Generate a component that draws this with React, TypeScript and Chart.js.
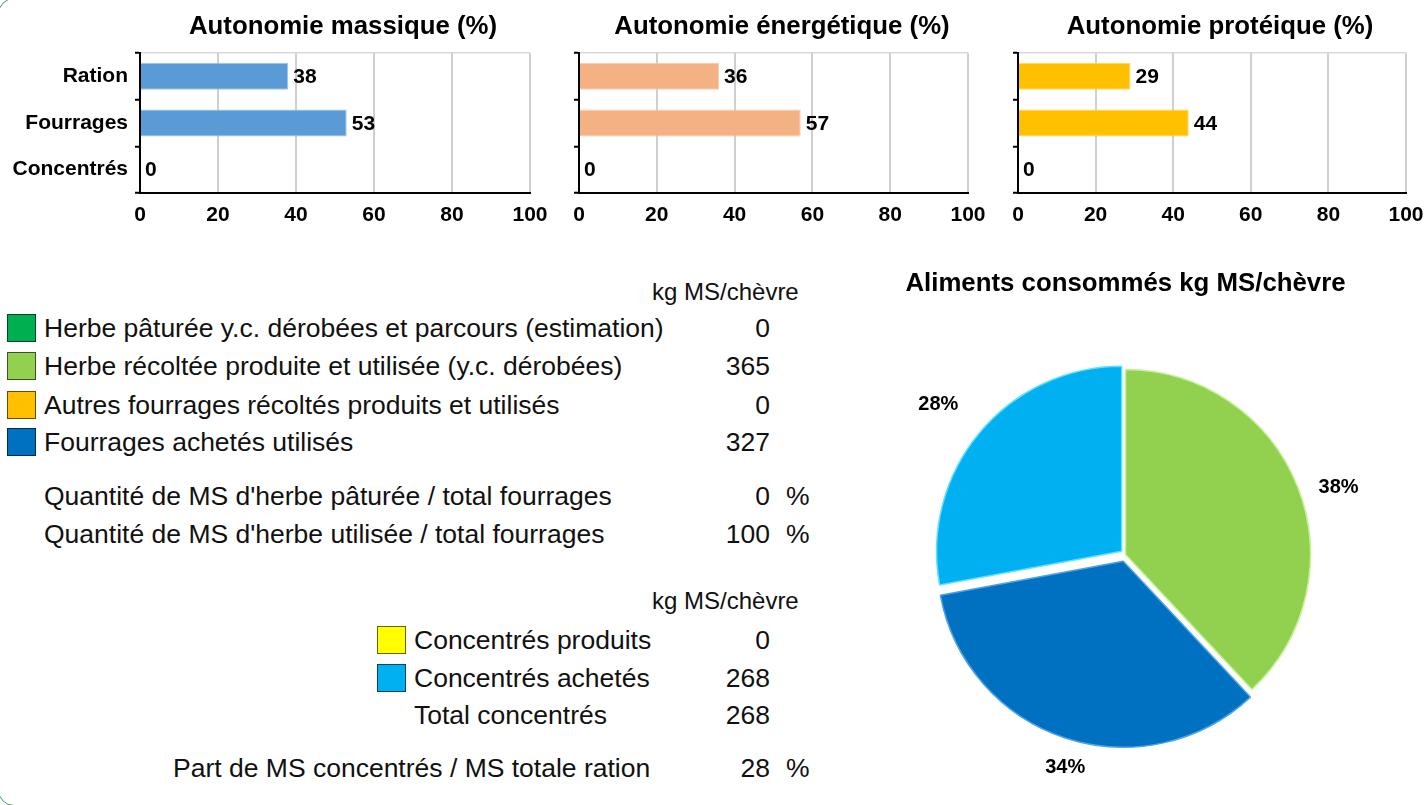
import React, { useEffect, useRef } from 'react';
import { Chart, registerables } from 'chart.js';

Chart.register(...registerables);

const FONT = '"Liberation Sans", Arial, Helvetica, sans-serif';

// ---------- data ----------
const barCategories = ['Ration', 'Fourrages', 'Concentrés'];
const massiqueValues = [38, 53, 0];
const energetiqueValues = [36, 57, 0];
const proteiqueValues = [29, 44, 0];
const barTitles = ['Autonomie massique (%)', 'Autonomie énergétique (%)', 'Autonomie protéique (%)'];
const xMin = 0;
const xMax = 100;
const xStep = 20;

const fourrageLabels = [
  'Herbe pâturée y.c. dérobées et parcours (estimation)',
  'Herbe récoltée produite et utilisée (y.c. dérobées)',
  'Autres fourrages récoltés produits et utilisés',
  'Fourrages achetés utilisés',
];
const fourrageValues = [0, 365, 0, 327];
const fourrageColors = ['#00B050', '#92D050', '#FFC000', '#0070C0'];

const ratioLabels = [
  "Quantité de MS d'herbe pâturée / total fourrages",
  "Quantité de MS d'herbe utilisée / total fourrages",
];
const ratioValues = [0, 100];

const concLabels = ['Concentrés produits', 'Concentrés achetés'];
const concValues = [0, 268];
const concColors = ['#FFFF00', '#00B0F0'];
const totalConcLabel = 'Total concentrés';
const totalConcValue = 268;
const partLabel = 'Part de MS concentrés / MS totale ration';
const partValue = 28;
const unitLabel = 'kg MS/chèvre';

const pieTitle = 'Aliments consommés kg MS/chèvre';
const pieLabels = ['Herbe récoltée produite et utilisée (y.c. dérobées)', 'Fourrages achetés utilisés', 'Concentrés achetés'];
const pieValues = [365, 327, 268];
const pieColors = ['#92D050', '#0070C0', '#00B0F0'];
const pieBorders = ['#C8F29A', '#4DA3E8', '#5FE0FF'];
// Chart.js translates an arc by roughly offset / 4
const pieOffsets = [0, 28, 20];

// ---------- plugins ----------
const barValuePlugin = {
  id: 'barValues',
  afterDatasetsDraw(chart: any) {
    const ctx = chart.ctx;
    const meta = chart.getDatasetMeta(0);
    const data = chart.data.datasets[0].data as number[];
    ctx.save();
    ctx.font = `bold 21px ${FONT}`;
    ctx.fillStyle = '#000';
    ctx.textAlign = 'left';
    ctx.textBaseline = 'middle';
    meta.data.forEach((el: any, i: number) => {
      ctx.fillText(String(data[i]), el.x + 5, el.y + 1);
    });
    ctx.restore();
  },
};

const pieLabelPlugin = {
  id: 'pieLabels',
  afterDatasetsDraw(chart: any) {
    const ctx = chart.ctx;
    const meta = chart.getDatasetMeta(0);
    const ds = chart.data.datasets[0];
    const data = ds.data as number[];
    const offs = (ds.offset || []) as number[];
    const total = data.reduce((a, b) => a + b, 0);
    ctx.save();
    ctx.font = `bold 20px ${FONT}`;
    ctx.fillStyle = '#000';
    ctx.textAlign = 'center';
    ctx.textBaseline = 'middle';
    const gap = 21;
    const h = 16;
    meta.data.forEach((arc: any, i: number) => {
      const p = arc.getProps(['x', 'y', 'startAngle', 'endAngle', 'outerRadius', 'circumference'], true);
      const mid = (p.startAngle + p.endAngle) / 2;
      const text = Math.round((data[i] / total) * 100) + '%';
      const w = ctx.measureText(text).width;
      const ux = Math.cos(mid);
      const uy = Math.sin(mid);
      const o = (offs[i] || 0) / 4;
      const fix = 1 - Math.sin(Math.min(Math.PI, p.circumference || 0));
      const r = p.outerRadius + o * (1 + fix);
      const px = p.x + ux * r;
      const py = p.y + uy * r;
      const dx = Math.abs(ux) > 0.35 ? Math.sign(ux) * (gap + w / 2) : 0;
      const dy = Math.abs(uy) > 0.4 ? Math.sign(uy) * (gap + h / 2) : 0;
      ctx.fillText(text, px + dx, py + dy + 1);
    });
    ctx.restore();
  },
};

// ---------- components ----------
type BarProps = {
  title: string;
  values: number[];
  color: string;
  border: string;
  showLabels: boolean;
  left: number;
  width: number;
  yAxisWidth: number;
  rightSpace: number;
};

function BarChart(props: BarProps) {
  const ref = useRef<HTMLCanvasElement>(null);
  useEffect(() => {
    if (!ref.current) return;
    const chart = new Chart(ref.current, {
      type: 'bar',
      data: {
        labels: barCategories,
        datasets: [
          {
            data: props.values,
            backgroundColor: props.color,
            borderColor: props.border,
            borderWidth: 1,
            barPercentage: 0.58,
            categoryPercentage: 1,
          },
        ],
      },
      options: {
        indexAxis: 'y',
        responsive: false,
        animation: false,
        layout: { padding: 0 },
        plugins: {
          legend: { display: false },
          tooltip: { enabled: false },
          title: {
            display: true,
            text: props.title,
            color: '#000',
            font: { family: FONT, size: 25.8, weight: 'bold' },
            padding: { top: 11, bottom: 11 },
          },
        },
        scales: {
          x: {
            type: 'linear',
            min: xMin,
            max: xMax,
            ticks: {
              stepSize: xStep,
              color: '#000',
              font: { family: FONT, size: 21, weight: 'bold' },
              padding: 10,
            },
            grid: { color: '#CFCFCF', lineWidth: 2, drawTicks: false },
            border: { display: true, color: '#000', width: 2 },
            afterFit: (s: any) => {
              s.height = 37;
            },
          },
          y: {
            type: 'category',
            ticks: {
              display: props.showLabels,
              color: '#000',
              font: { family: FONT, size: 21, weight: 'bold' },
              padding: 7,
            },
            grid: {
              offset: true,
              drawOnChartArea: true,
              drawTicks: true,
              tickLength: 5,
              tickColor: '#000',
              tickWidth: 2,
              lineWidth: 1.5,
              color: (c: any) => (c.index === 0 ? '#D9D9D9' : 'rgba(0,0,0,0)'),
            },
            border: { display: true, color: '#000', width: 2 },
            afterFit: (s: any) => {
              s.width = props.yAxisWidth;
            },
          },
          spacer: {
            type: 'linear',
            position: 'right',
            display: true,
            ticks: { display: false },
            grid: { display: false, drawTicks: false },
            border: { display: false },
            afterFit: (s: any) => {
              s.width = props.rightSpace;
            },
          },
        },
      } as any,
      plugins: [barValuePlugin],
    });
    return () => chart.destroy();
  }, []);
  return (
    <canvas
      ref={ref}
      width={props.width}
      height={230}
      style={{ position: 'absolute', left: props.left, top: 0, width: props.width, height: 230, display: 'block' }}
    />
  );
}

function PieChart() {
  const ref = useRef<HTMLCanvasElement>(null);
  useEffect(() => {
    if (!ref.current) return;
    const chart = new Chart(ref.current, {
      type: 'pie',
      data: {
        labels: pieLabels,
        datasets: [
          {
            data: pieValues,
            backgroundColor: pieColors,
            borderColor: pieBorders,
            borderWidth: 1.5,
            offset: pieOffsets,
          },
        ],
      },
      options: {
        responsive: false,
        animation: false,
        layout: { padding: { left: 0, right: 0, top: 0, bottom: 50.75 } },
        plugins: {
          legend: { display: false },
          tooltip: { enabled: false },
          title: {
            display: true,
            text: pieTitle,
            color: '#000',
            font: { family: FONT, size: 25.8, weight: 'bold' },
            padding: { top: 13, bottom: 55.8 },
          },
        },
      } as any,
      plugins: [pieLabelPlugin],
    });
    return () => chart.destroy();
  }, []);
  return (
    <canvas
      ref={ref}
      width={601}
      height={550}
      style={{ position: 'absolute', left: 825, top: 255, width: 601, height: 550, display: 'block' }}
    />
  );
}

function Txt(p: { x: number; y: number; text: string | number; size?: number; align?: 'left' | 'right' }) {
  const size = p.size ?? 26.5;
  const h = Math.round(size * 1.3);
  const style: React.CSSProperties = {
    position: 'absolute',
    top: p.y - h / 2,
    height: h,
    lineHeight: `${h}px`,
    fontSize: size,
    fontFamily: FONT,
    color: '#111',
    whiteSpace: 'nowrap',
  };
  if (p.align === 'right') style.right = 1426 - p.x;
  else style.left = p.x;
  return <div style={style}>{p.text}</div>;
}

function Box(p: { x: number; y: number; color: string }) {
  return (
    <div
      style={{
        position: 'absolute',
        left: p.x,
        top: p.y - 14,
        width: 27,
        height: 26,
        background: p.color,
        border: '1.5px solid rgba(0,0,0,0.6)',
      }}
    />
  );
}

export default function App() {
  const legendY = [328, 366, 405, 442];
  const ratioY = [496, 534];
  const concY = [640, 678];
  return (
    <div
      style={{
        position: 'absolute',
        left: 0,
        top: 0,
        width: 1426,
        height: 805,
        overflow: 'hidden',
        background: '#fff',
      }}
    >
      <div
        style={{
          position: 'absolute',
          left: -2,
          top: -2,
          width: 1500,
          height: 806,
          border: '1.5px solid #3C9D5D',
          borderRadius: 16,
        }}
      />
      <BarChart title={barTitles[0]} values={massiqueValues} color="#5B9BD5" border="#9DC3E6" showLabels={true} left={0} width={686} yAxisWidth={140} rightSpace={156} />
      <BarChart title={barTitles[1]} values={energetiqueValues} color="#F4B183" border="#F8CBAD" showLabels={false} left={560} width={444} yAxisWidth={19} rightSpace={36} />
      <BarChart title={barTitles[2]} values={proteiqueValues} color="#FFC000" border="#FFD966" showLabels={false} left={1000} width={440} yAxisWidth={18} rightSpace={34} />

      <Txt x={652} y={291} text={unitLabel} size={24} />
      {fourrageLabels.map((l, i) => (
        <React.Fragment key={'f' + i}>
          <Box x={7} y={legendY[i]} color={fourrageColors[i]} />
          <Txt x={44} y={legendY[i]} text={l} />
          <Txt x={770} y={legendY[i]} text={fourrageValues[i]} align="right" />
        </React.Fragment>
      ))}
      {ratioLabels.map((l, i) => (
        <React.Fragment key={'r' + i}>
          <Txt x={44} y={ratioY[i]} text={l} />
          <Txt x={770} y={ratioY[i]} text={ratioValues[i]} align="right" />
          <Txt x={786} y={ratioY[i]} text="%" />
        </React.Fragment>
      ))}
      <Txt x={652} y={600} text={unitLabel} size={24} />
      {concLabels.map((l, i) => (
        <React.Fragment key={'c' + i}>
          <Box x={377} y={concY[i]} color={concColors[i]} />
          <Txt x={414} y={concY[i]} text={l} />
          <Txt x={770} y={concY[i]} text={concValues[i]} align="right" />
        </React.Fragment>
      ))}
      <Txt x={414} y={715} text={totalConcLabel} />
      <Txt x={770} y={715} text={totalConcValue} align="right" />
      <Txt x={173} y={768} text={partLabel} />
      <Txt x={770} y={768} text={partValue} align="right" />
      <Txt x={786} y={768} text="%" />

      <PieChart />
    </div>
  );
}
